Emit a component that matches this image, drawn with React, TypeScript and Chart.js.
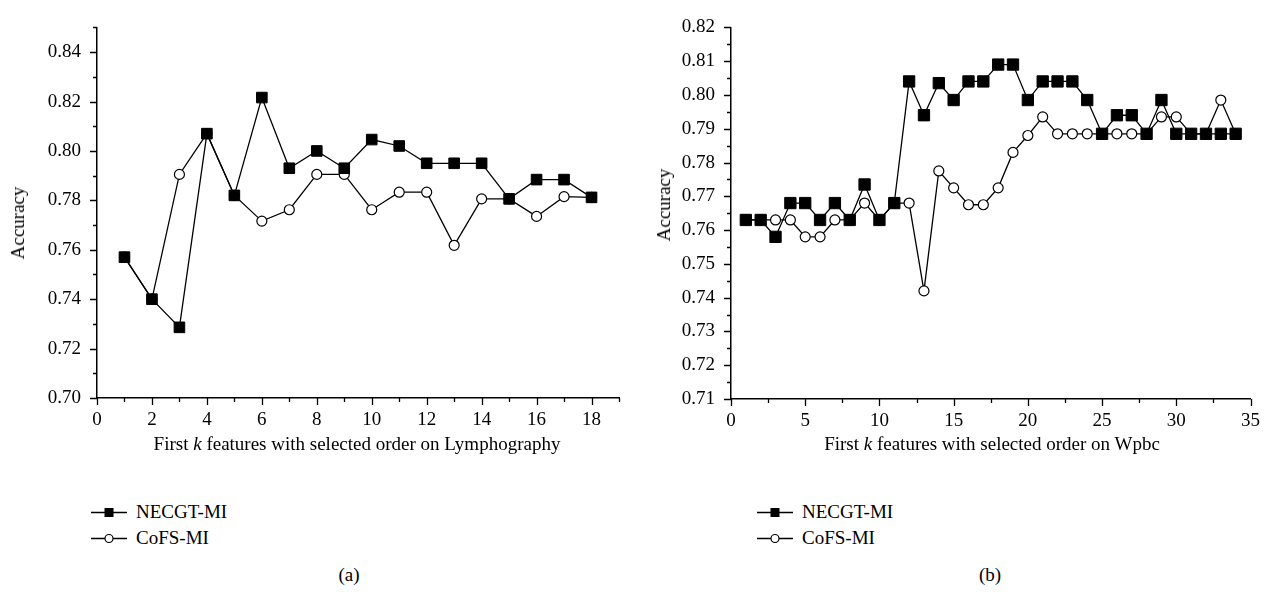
import React, { useEffect, useRef } from "react";
import { Chart, registerables } from "chart.js";

Chart.register(...registerables);

// ---------- Data: (a) Lymphography ----------
const lymphK = [1, 2, 3, 4, 5, 6, 7, 8, 9, 10, 11, 12, 13, 14, 15, 16, 17, 18];
const lymphNECGT = [0.757, 0.740, 0.7286, 0.807, 0.782, 0.8216, 0.793, 0.800, 0.793, 0.8046, 0.802, 0.795, 0.795, 0.795, 0.7806, 0.7884, 0.7884, 0.7812];
const lymphCoFS = [0.757, 0.740, 0.7905, 0.807, 0.782, 0.7716, 0.7762, 0.7905, 0.7905, 0.7762, 0.7833, 0.7833, 0.7618, 0.7806, 0.7806, 0.7735, 0.7815, 0.7812];
const lymphXLabels = [0, 2, 4, 6, 8, 10, 12, 14, 16, 18];
const lymphYLabels = [0.70, 0.72, 0.74, 0.76, 0.78, 0.80, 0.82, 0.84];

// ---------- Data: (b) Wpbc ----------
const wpbcK = [1, 2, 3, 4, 5, 6, 7, 8, 9, 10, 11, 12, 13, 14, 15, 16, 17, 18, 19, 20, 21, 22, 23, 24, 25, 26, 27, 28, 29, 30, 31, 32, 33, 34];
const wpbcNECGT = [0.763, 0.763, 0.758, 0.768, 0.768, 0.763, 0.768, 0.763, 0.7735, 0.763, 0.768, 0.804, 0.794, 0.8035, 0.7985, 0.804, 0.804, 0.809, 0.809, 0.7985, 0.804, 0.804, 0.804, 0.7985, 0.7885, 0.794, 0.794, 0.7885, 0.7985, 0.7885, 0.7885, 0.7885, 0.7885, 0.7885];
const wpbcCoFS = [0.763, 0.763, 0.763, 0.763, 0.758, 0.758, 0.763, 0.763, 0.768, 0.763, 0.768, 0.768, 0.742, 0.7775, 0.7725, 0.7675, 0.7675, 0.7725, 0.783, 0.788, 0.7935, 0.7885, 0.7885, 0.7885, 0.7885, 0.7885, 0.7885, 0.7885, 0.7935, 0.7935, 0.7885, 0.7885, 0.7985, 0.7885];
const wpbcXLabels = [0, 5, 10, 15, 20, 25, 30, 35];
const wpbcYLabels = [0.71, 0.72, 0.73, 0.74, 0.75, 0.76, 0.77, 0.78, 0.79, 0.80, 0.81, 0.82];

const seriesNames = ["NECGT-MI", "CoFS-MI"];

const FONT = '"Liberation Serif", "Times New Roman", serif';
const FS = 19;

function range(min: number, max: number, step: number): number[] {
  const out: number[] = [];
  const n = Math.round((max - min) / step);
  for (let i = 0; i <= n; i++) out.push(Math.round((min + i * step) * 100000) / 100000);
  return out;
}
const near = (list: number[], v: number) => list.some((a) => Math.abs(a - v) < 1e-6);

const outerTicks = {
  id: "outerTicks",
  afterDraw(chart: any, _args: any, opts: any) {
    const { ctx } = chart;
    const xs = chart.scales.x;
    const ys = chart.scales.y;
    ctx.save();
    ctx.strokeStyle = "#000";
    ctx.lineWidth = 1.3;
    ctx.beginPath();
    xs.ticks.forEach((t: any) => {
      const px = Math.round(xs.getPixelForValue(t.value)) + 0.5;
      const len = near(opts.xMajor, t.value) ? 7 : 4;
      ctx.moveTo(px, ys.bottom);
      ctx.lineTo(px, ys.bottom + len);
    });
    ys.ticks.forEach((t: any) => {
      const py = Math.round(ys.getPixelForValue(t.value)) + 0.5;
      const len = near(opts.yMajor, t.value) ? 7 : 4;
      ctx.moveTo(xs.left, py);
      ctx.lineTo(xs.left - len, py);
    });
    ctx.stroke();
    ctx.restore();
  },
};

type Panel = {
  k: number[];
  necgt: number[];
  cofs: number[];
  xMin: number;
  xMax: number;
  xStep: number;
  xLabels: number[];
  yMin: number;
  yMax: number;
  yStep: number;
  yLabels: number[];
  width: number;
  height: number;
  yAxisWidth: number;
  xAxisHeight: number;
  padTop: number;
  padRight: number;
  sq: number;
  circ: number;
};

function makeConfig(p: Panel): any {
  const xTicks = range(p.xMin, p.xMax, p.xStep);
  const yTicks = range(p.yMin, p.yMax, p.yStep);
  return {
    type: "line",
    data: {
      datasets: [
        {
          label: seriesNames[0],
          data: p.k.map((k, i) => ({ x: k, y: p.necgt[i] })),
          borderColor: "#000",
          backgroundColor: "#000",
          borderWidth: 1.3,
          pointStyle: "rect",
          pointRadius: p.sq,
          pointBackgroundColor: "#000",
          pointBorderColor: "#000",
          pointBorderWidth: 1,
          tension: 0,
        },
        {
          label: seriesNames[1],
          data: p.k.map((k, i) => ({ x: k, y: p.cofs[i] })),
          borderColor: "#000",
          backgroundColor: "#fff",
          borderWidth: 1.3,
          pointStyle: "circle",
          pointRadius: p.circ,
          pointBackgroundColor: "#fff",
          pointBorderColor: "#000",
          pointBorderWidth: 1.2,
          tension: 0,
        },
      ],
    },
    options: {
      animation: false,
      responsive: false,
      events: [],
      layout: { padding: { top: p.padTop, right: p.padRight, left: 0, bottom: 0 } },
      plugins: {
        legend: { display: false },
        tooltip: { enabled: false },
        outerTicks: { xMajor: p.xLabels, yMajor: p.yLabels },
      },
      scales: {
        x: {
          type: "linear",
          min: p.xMin,
          max: p.xMax,
          afterBuildTicks: (s: any) => {
            s.ticks = xTicks.map((v) => ({ value: v }));
          },
          afterFit: (s: any) => {
            s.height = p.xAxisHeight;
          },
          grid: { display: true, drawOnChartArea: false, drawTicks: false },
          border: { display: true, color: "#000", width: 1.5 },
          ticks: {
            autoSkip: false,
            maxRotation: 0,
            minRotation: 0,
            padding: 11,
            color: "#000",
            font: { family: FONT, size: FS },
            callback: (v: number) => (near(p.xLabels, v) ? String(Math.round(v)) : ""),
          },
        },
        y: {
          type: "linear",
          min: p.yMin,
          max: p.yMax,
          afterBuildTicks: (s: any) => {
            s.ticks = yTicks.map((v) => ({ value: v }));
          },
          afterFit: (s: any) => {
            s.width = p.yAxisWidth;
          },
          grid: { display: true, drawOnChartArea: false, drawTicks: false },
          border: { display: true, color: "#000", width: 1.5 },
          ticks: {
            autoSkip: false,
            padding: 16,
            color: "#000",
            font: { family: FONT, size: FS },
            callback: (v: number) => (near(p.yLabels, v) ? v.toFixed(2) : ""),
          },
        },
      },
    },
    plugins: [outerTicks],
  };
}

function ChartPanel({ panel, left, top }: { panel: Panel; left: number; top: number }) {
  const ref = useRef<HTMLCanvasElement>(null);
  useEffect(() => {
    if (!ref.current) return;
    const chart = new Chart(ref.current, makeConfig(panel));
    return () => chart.destroy();
  }, []);
  return (
    <canvas
      ref={ref}
      width={panel.width}
      height={panel.height}
      style={{ position: "absolute", left, top, width: panel.width, height: panel.height }}
    />
  );
}

function LegendRow({ left, top, kind, text }: { left: number; top: number; kind: "sq" | "circ"; text: string }) {
  return (
    <div style={{ position: "absolute", left, top: top - 12, height: 24, display: "flex", alignItems: "center" }}>
      <svg width={40} height={24} style={{ display: "block" }}>
        <line x1={1} y1={12.5} x2={37} y2={12.5} stroke="#000" strokeWidth={1.3} />
        {kind === "sq" ? (
          <rect x={14.5} y={8} width={9} height={9} fill="#000" />
        ) : (
          <circle cx={19} cy={12.5} r={4} fill="#fff" stroke="#000" strokeWidth={1.2} />
        )}
      </svg>
      <span style={{ marginLeft: 6, fontFamily: FONT, fontSize: FS, color: "#000", whiteSpace: "nowrap" }}>{text}</span>
    </div>
  );
}

const textStyle: React.CSSProperties = {
  position: "absolute",
  fontFamily: FONT,
  fontSize: FS,
  color: "#000",
  whiteSpace: "nowrap",
  lineHeight: "22px",
};

export default function App() {
  const left: Panel = {
    k: lymphK,
    necgt: lymphNECGT,
    cofs: lymphCoFS,
    xMin: 0,
    xMax: 19,
    xStep: 1,
    xLabels: lymphXLabels,
    yMin: 0.7,
    yMax: 0.85,
    yStep: 0.01,
    yLabels: lymphYLabels,
    width: 640,
    height: 440,
    yAxisWidth: 97,
    xAxisHeight: 42,
    padTop: 9,
    padRight: 21,
    sq: 7.5,
    circ: 5,
  };
  const right: Panel = {
    k: wpbcK,
    necgt: wpbcNECGT,
    cofs: wpbcCoFS,
    xMin: 0,
    xMax: 35,
    xStep: 2.5,
    xLabels: wpbcXLabels,
    yMin: 0.71,
    yMax: 0.82,
    yStep: 0.005,
    yLabels: wpbcYLabels,
    width: 631,
    height: 440,
    yAxisWidth: 91,
    xAxisHeight: 41,
    padTop: 10,
    padRight: 18,
    sq: 8,
    circ: 5,
  };
  return (
    <div
      style={{
        position: "absolute",
        left: 0,
        top: 0,
        width: 1271,
        height: 592,
        overflow: "hidden",
        background: "#fff",
      }}
    >
      <ChartPanel panel={left} left={0} top={0} />
      <ChartPanel panel={right} left={640} top={0} />

      {/* y-axis titles */}
      <div style={{ ...textStyle, left: 18, top: 223, transform: "translate(-50%, -50%) rotate(-90deg)" }}>Accuracy</div>
      <div style={{ ...textStyle, left: 664, top: 205, transform: "translate(-50%, -50%) rotate(-90deg)" }}>Accuracy</div>

      {/* x-axis titles */}
      <div style={{ ...textStyle, left: 357, top: 444, transform: "translate(-50%, -50%)" }}>
        First <i>k</i> features with selected order on Lymphography
      </div>
      <div style={{ ...textStyle, left: 992, top: 444, transform: "translate(-50%, -50%)" }}>
        First <i>k</i> features with selected order on Wpbc
      </div>

      {/* legends */}
      <LegendRow left={90} top={512} kind="sq" text={seriesNames[0]} />
      <LegendRow left={90} top={538} kind="circ" text={seriesNames[1]} />
      <LegendRow left={756} top={512} kind="sq" text={seriesNames[0]} />
      <LegendRow left={756} top={538} kind="circ" text={seriesNames[1]} />

      {/* panel captions */}
      <div style={{ ...textStyle, left: 349, top: 575, transform: "translate(-50%, -50%)" }}>(a)</div>
      <div style={{ ...textStyle, left: 990, top: 575, transform: "translate(-50%, -50%)" }}>(b)</div>
    </div>
  );
}
